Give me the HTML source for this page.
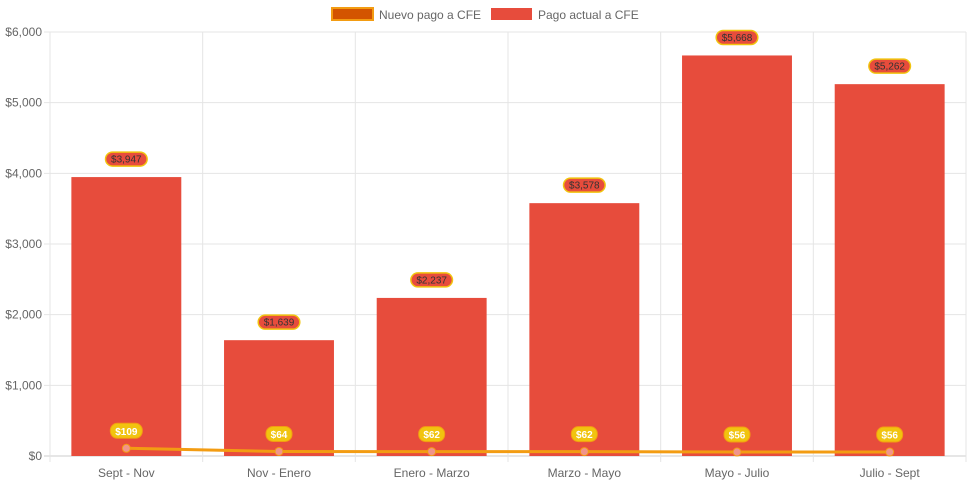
<!DOCTYPE html>
<html><head><meta charset="utf-8"><style>
body{margin:0;background:#fff;font-family:"Liberation Sans",Arial,sans-serif}
svg{display:block}
</style></head><body>
<svg id="c" width="971" height="485">
<g>
<g>
<rect x="332" y="8" width="41" height="12" fill="#d35400" stroke="#f39c12" stroke-width="2"/>
<text x="379" y="19" font-size="12" fill="#666">Nuevo pago a CFE</text></g>
<g>
<rect x="491" y="8" width="41" height="12" fill="#e74c3c"/>
<text x="538" y="19" font-size="12" fill="#666">Pago actual a CFE</text></g>
</g>
<g id="grid"></g>
<g id="bars"></g>
<g id="line"></g>
<g id="labels"></g>
<g id="axes"></g>
</svg>
<script>
const categories=["Sept - Nov","Nov - Enero","Enero - Marzo","Marzo - Mayo","Mayo - Julio","Julio - Sept"];
const pagoActual=[3947,1639,2237,3578,5668,5262];
const nuevoPago=[109,64,62,62,56,56];
const yTicks=[0,1000,2000,3000,4000,5000,6000];
const L=50,R=966,T=32,B=456,yMax=6000;
const NS="http://www.w3.org/2000/svg";
const n=categories.length,bw=(R-L)/n;
const y=v=>B-(v/yMax)*(B-T);
const xc=i=>L+bw*(i+0.5);
function mk(tag,attrs,parent,txt){const e=document.createElementNS(NS,tag);for(const k in attrs)e.setAttribute(k,attrs[k]);if(txt!==undefined)e.textContent=txt;document.getElementById(parent).appendChild(e);return e;}
const fmt=v=>"$"+v.toLocaleString("en-US");
yTicks.forEach(t=>{
 const g=mk("line",{x1:L-6,x2:R,y1:y(t),y2:y(t),stroke:t===0?"#ccc":"#e5e5e5"},"grid");
 
 
 const tx=mk("text",{x:L-8,y:y(t)+4,"text-anchor":"end","font-size":12,fill:"#666"},"axes",fmt(t));
 
 
});
for(let i=0;i<=n;i++){
 const g=mk("line",{x1:L+bw*i,x2:L+bw*i,y1:T,y2:B+6,stroke:"#e5e5e5"},"grid");
 
 
}
categories.forEach((c,i)=>{
 const tx=mk("text",{x:xc(i),y:477,"text-anchor":"middle","font-size":12,fill:"#666"},"axes",c);
 
 
 const w=bw*0.72;
 const r=mk("rect",{x:xc(i)-w/2,y:y(pagoActual[i]),width:w,height:B-y(pagoActual[i]),fill:"#e74c3c"},"bars");
 
 
 const s=fmt(pagoActual[i]),lw=s.length*5.6+8;
 const lb=mk("rect",{x:xc(i)-lw/2,y:y(pagoActual[i])-25,width:lw,height:14,rx:7,fill:"#e74c3c",stroke:"#f1c40f","stroke-width":1.5},"labels");
 
 
 const lt=mk("text",{x:xc(i),y:y(pagoActual[i])-14.5,"text-anchor":"middle","font-size":10,fill:"#333"},"labels",s);
 
 
});
const pts=nuevoPago.map((v,i)=>xc(i)+","+y(v)).join(" ");
const pl=mk("polyline",{points:pts,fill:"none",stroke:"#f39c12","stroke-width":3},"line");


nuevoPago.forEach((v,i)=>{
 const c=mk("circle",{cx:xc(i),cy:y(v),r:4,fill:"#f1948a",stroke:"#f39c12","stroke-width":1},"line");
 
 
 const s=fmt(v),lw=s.length*6+8;
 const lb=mk("rect",{x:xc(i)-lw/2,y:y(v)-25,width:lw,height:15,rx:7,fill:"#f1c40f",stroke:"#f39c12","stroke-width":1},"labels");
 
 
 const lt=mk("text",{x:xc(i),y:y(v)-13.5,"text-anchor":"middle","font-size":10,"font-weight":"bold",fill:"#fff"},"labels",s);
 
 
});
</script>
</body></html>
